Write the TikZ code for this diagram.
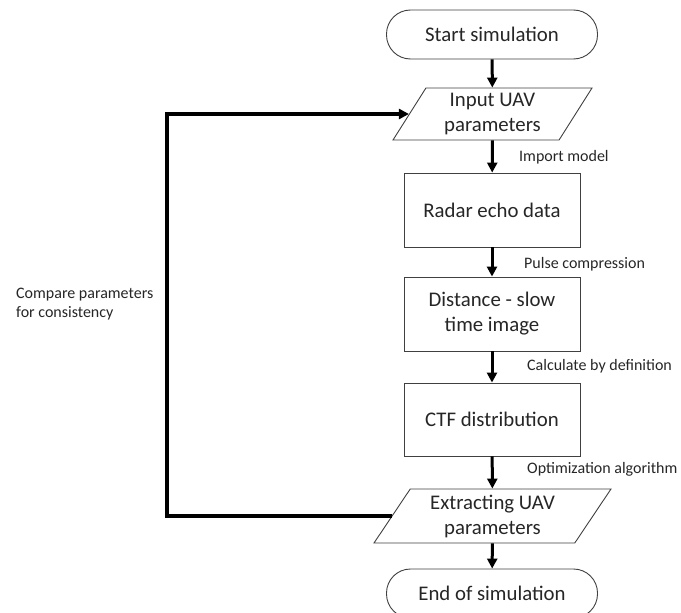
\documentclass[tikz,border=0pt]{standalone}
\usepackage{fontspec}
\setmainfont{Carlito}
\usetikzlibrary{shapes.geometric,arrows.meta}
\begin{document}
\begin{tikzpicture}[x=1pt,y=-1pt,
  box/.style={draw=black!75, line width=0.9pt, fill=white, text=black!85,
    font=\fontsize{20.8}{25}\selectfont, align=center, inner sep=1pt},
  term/.style={box, rounded corners=24pt, minimum width=211pt, minimum height=49pt},
  proc/.style={box, minimum width=176pt},
  io/.style={box, trapezium, trapezium stretches body=true},
  flow/.style={line width=3pt, -{Triangle[width=10pt,length=10pt]}},
  loopline/.style={line width=3.5pt, line join=miter, -{Triangle[width=10pt,length=10pt]}},
  lbl/.style={font=\fontsize{16}{19}\selectfont, text=black!85, anchor=west, inner sep=0pt, align=left}
]
\useasboundingbox (0,0) rectangle (681,613);

\node[term] (start) at (492,34.5) {Start simulation};
\node[io, trapezium left angle=53, trapezium right angle=127,
      minimum width=199pt, minimum height=52pt] (in) at (492.5,114) {Input UAV\\parameters};
\node[proc, minimum height=74pt] (radar) at (492,210) {Radar echo data};
\node[proc, minimum height=74pt] (dist) at (492,314) {Distance - slow\\time image};
\node[proc, minimum height=73pt] (ctf) at (492,419.5) {CTF distribution};
\node[io, trapezium left angle=51, trapezium right angle=129,
      minimum width=237pt, minimum height=54pt] (ex) at (492.5,516) {Extracting UAV\\parameters};
\node[term] (end) at (492,593.5) {End of simulation};

\draw[flow] (start) -- (in);
\draw[flow] (in) -- (radar);
\draw[flow] (radar) -- (dist);
\draw[flow] (dist) -- (ctf);
\draw[flow] (ctf) -- (ex);
\draw[flow] (ex) -- (end);

\coordinate (lx) at (167,300);
\draw[loopline] (ex.west) -- (ex.west -| lx) -- (in.west -| lx) -- (in.west);

\node[lbl] (l1) at (519,157) {Import model};
\node[lbl] (l2) at (524,264) {Pulse compression};
\node[lbl] (l3) at (527,366) {Calculate by definition};
\node[lbl] (l4) at (527,469) {Optimization algorithm};
\node[lbl] (l5) at (16,304) {Compare parameters\\for consistency};
\end{tikzpicture}
\end{document}
